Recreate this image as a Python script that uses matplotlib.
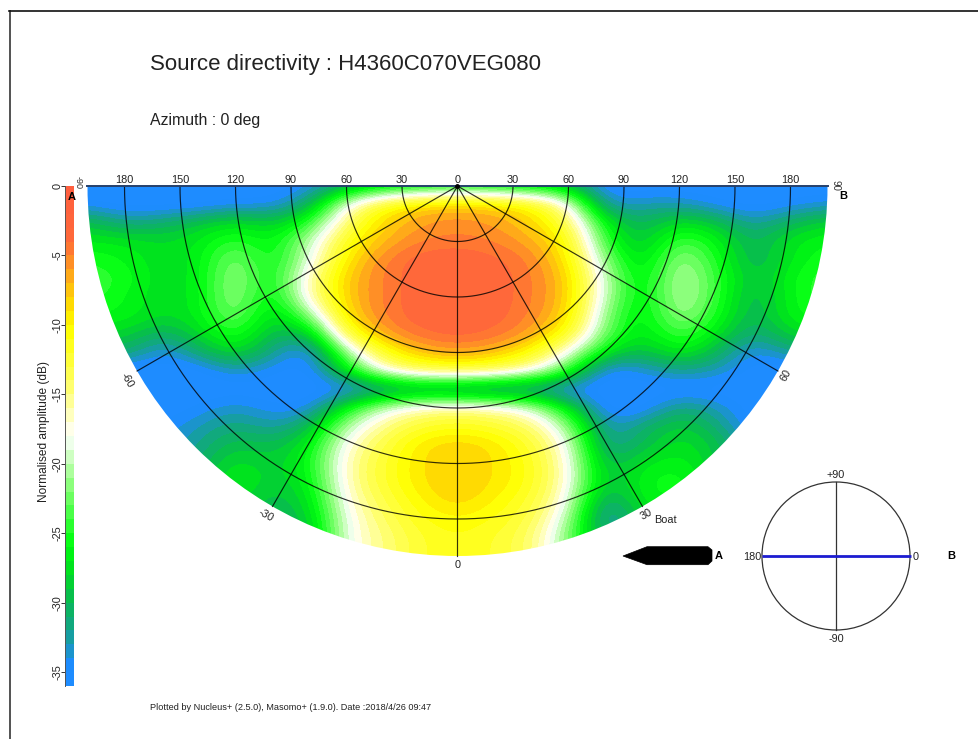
import matplotlib
matplotlib.use("Agg")
import matplotlib.pyplot as plt
import numpy as np
from matplotlib.colors import LinearSegmentedColormap, Normalize
from matplotlib.patches import Wedge, Polygon, Circle

plt.rcParams['font.family'] = ['Liberation Sans', 'DejaVu Sans']

W, H = 979, 739
CX, CY, SCALE = 457.5, 186.0, 1.85

# horizontal positions (deg-like radial units) and depth rows of the estimated field
x_positions = list(range(-200, 201, 20))
depth_rows = list(range(0, 201, 10))
# amplitude in dB; one row per depth, left to right
field_db = [
 [-36,-36,-36,-36,-36,-36,-35,-31,-29,-28,-27,-28,-29,-30,-36,-36,-36,-36,-36,-36,-36],
 [-35,-36,-36,-36,-35,-35,-31,-18,-11, -8, -7, -8,-10,-17,-34,-33,-33,-35,-36,-35,-34],
 [-29,-32,-31,-29,-27,-29,-25,-14, -8, -6,-5.5,-6, -8,-13,-27,-31,-27,-29,-33,-30,-28],
 [-27,-27,-28,-27,-24,-27,-20,-11, -7,-5, -4.5,-5, -6.5,-10,-25,-30,-23,-26,-31,-27,-26],
 [-25,-26,-28,-27,-21,-27,-19,-9, -5, -3, -3, -3.5,-5,-9,-22,-29,-20,-25,-31,-27,-25],
 [-24,-25,-28,-27,-20,-27,-16,-7.5,-4.8,-3, -3, -3, -4.8,-7.5,-20,-28,-19,-24,-30,-26,-24],
 [-24,-26,-28,-27,-20,-28,-16,-7.5,-4.8,-3, -3, -3, -4.8,-7.5,-20,-28,-19,-24,-31,-26,-24],
 [-26,-26,-28,-27,-21,-29,-22,-8, -4.8,-3, -3, -3.2,-5,-8,-22,-28,-20,-25,-31,-26,-25],
 [-28,-28,-31,-28,-24,-30,-30,-12, -6,-4,-3.2,-4,-6,-11,-23,-28,-23,-27,-32,-28,-27],
 [-32,-30,-35,-31,-27,-32,-36,-21,-11, -7, -6, -7,-10,-18,-27,-30,-26,-30,-35,-32,-31],
 [-36,-36,-36,-36,-33,-35,-36,-27,-17,-13,-12,-13,-17,-24,-36,-34,-32,-33,-36,-36,-36],
 [-36,-36,-36,-36,-36,-36,-36,-36,-34,-33,-34,-35,-34,-36,-36,-36,-36,-36,-36,-36,-36],
 [-36,-36,-36,-35,-33,-35,-35,-26,-19,-16,-15,-16,-19,-27,-36,-36,-31,-33,-36,-36,-36],
 [-36,-36,-35,-33,-31,-33,-30,-20,-15,-12,-11,-12,-14,-21,-34,-31,-28,-31,-36,-36,-36],
 [-36,-36,-34,-32,-29,-30,-27,-17,-13, -9, -8, -9,-12,-18,-33,-30,-27,-29,-34,-36,-36],
 [-36,-36,-34,-31,-27,-29,-26,-16,-12, -9,-7.5,-9,-11,-17,-31,-27,-26,-29,-34,-36,-36],
 [-36,-36,-34,-30,-26,-29,-27,-16,-12, -9,-7.5,-9,-11,-17,-30,-26,-25,-28,-34,-36,-36],
 [-36,-36,-34,-30,-27,-30,-28,-17,-13,-10, -8,-10,-12,-18,-33,-26,-26,-28,-34,-36,-36],
 [-36,-36,-34,-31,-28,-31,-29,-18,-14,-11,-10,-11,-13,-20,-35,-28,-27,-29,-34,-36,-36],
 [-36,-36,-34,-31,-28,-31,-30,-18,-15,-12,-11,-12,-14,-22,-32,-28,-27,-29,-34,-36,-36],
 [-36,-36,-34,-31,-28,-31,-30,-18,-15,-12,-11,-12,-14,-22,-32,-28,-27,-29,-34,-36,-36],
]
cb_ticks = [0, -5, -10, -15, -20, -25, -30, -35]
ring_labels = [180, 150, 120, 90, 60, 30, 0, 30, 60, 90, 120, 150, 180]
ring_radii = [30, 60, 90, 120, 150, 180]
spoke_angles = [-60, -30, 0, 30, 60]
max_radius = 200

cmap_points = [(-36,'#1e8cff'),(-35,'#1e8cff'),(-33.5,'#1a98b8'),(-32,'#12a880'),(-30,'#08bc50'),
               (-28,'#00e020'),(-26,'#00ff10'),(-24,'#40ff40'),(-22,'#80ff70'),(-20,'#c0ffb0'),
               (-18,'#ffffff'),(-16.5,'#ffffc0'),(-14,'#ffff60'),(-10,'#ffff00'),(-8.5,'#ffe000'),
               (-7,'#ffc010'),(-5,'#ff8c28'),(-3.5,'#ff6a3a'),(0,'#ff5f3f')]
cmap = LinearSegmentedColormap.from_list(
    'dir', [((v + 36) / 36, c) for v, c in cmap_points], N=36)
norm = Normalize(-36, 0)

fig = plt.figure(figsize=(W / 100, H / 100), dpi=100, facecolor='white')

# main chart axes: radial units with origin at the source
ax = fig.add_axes([0, 0, 1, 1])
ax.set_xlim(-CX / SCALE, (W - CX) / SCALE)
ax.set_ylim(-(H - CY) / SCALE, CY / SCALE)
ax.axis('off')
F = np.array(field_db, dtype=float)
dx = (x_positions[1] - x_positions[0]) / 2
dy = (depth_rows[1] - depth_rows[0]) / 2
im = ax.imshow(F, cmap=cmap, norm=norm, aspect='auto', interpolation='bicubic',
               interpolation_stage='data',
               extent=[x_positions[0] - dx, x_positions[-1] + dx,
                       -depth_rows[-1] - dy, -depth_rows[0] + dy], origin='upper')
ax.set_xlim(-CX / SCALE, (W - CX) / SCALE)
ax.set_ylim(-(H - CY) / SCALE, CY / SCALE)
disc = Wedge((0, 0), max_radius, 180, 360, transform=ax.transData, fc='none', ec='none')
ax.add_patch(disc)
im.set_clip_path(disc)

t = np.radians(np.linspace(180, 360, 361))
for r in ring_radii:
    ax.plot(r * np.cos(t), r * np.sin(t), color='black', lw=0.85, alpha=0.8, zorder=3)
for a in spoke_angles:
    ar = np.radians(a)
    ax.plot([0, max_radius * np.sin(ar)], [0, -max_radius * np.cos(ar)],
            color='black', lw=0.85, alpha=0.8, zorder=3)
ax.plot([-max_radius, max_radius], [0, 0], color='#26406a', lw=1.4, zorder=4)
ax.plot([0], [0], 'o', ms=2.5, color='black', zorder=5)

for i, lab in enumerate(ring_labels):
    xr = (i - 6) * 30
    ax.text(xr, 0.6, str(lab), ha='center', va='bottom', fontsize=7.8, color='#222222')

# colour bar
cax = fig.add_axes([65.5 / W, 1 - 686 / H, 9 / W, 500 / H])
cb_vals = np.linspace(0, -36, 37).reshape(-1, 1)
cax.imshow(cb_vals[:-1] - 0.5, cmap=cmap, norm=norm, aspect='auto',
           interpolation='nearest', extent=[0, 1, -36, 0])
cax.set_xticks([])
cax.set_yticks(cb_ticks)
cax.set_yticklabels([str(v) for v in cb_ticks], rotation=90, va='center', fontsize=7.8, color='#222222')
cax.tick_params(axis='y', length=3, width=0.7, pad=-1, color='#333333')
for s in ['top', 'right', 'bottom']:
    cax.spines[s].set_visible(False)
cax.spines['left'].set_linewidth(0.7)
cax.spines['left'].set_color('#555555')

# overlay in image pixels for frame, annotation text, boat and orientation dial
ov = fig.add_axes([0, 0, 1, 1], zorder=10)
ov.set_xlim(0, W)
ov.set_ylim(H, 0)
ov.axis('off')
ov.patch.set_alpha(0)
ov.plot([10, 10], [H, 11], color='#444444', lw=1.3)
ov.plot([9.5, W], [11, 11], color='#111111', lw=1.2)

ov.text(150, 64.5, 'Source directivity : H4360C070VEG080', fontsize=16.05, va='center', color='#222222')
ov.text(150, 120.5, 'Azimuth : 0 deg', fontsize=11.4, va='center', color='#222222')
ov.text(150, 707, 'Plotted by Nucleus+ (2.5.0), Masomo+ (1.9.0). Date :2018/4/26 09:47',
        fontsize=6.55, va='center', color='#222222')
ov.text(44, 432, 'Normalised amplitude (dB)', rotation=90, fontsize=8.6, ha='center', va='center', color='#222222')

ov.text(72, 197.5, 'A', fontsize=8, fontweight='bold', ha='center', va='center')
ov.text(843, 196, 'B', fontsize=8, fontweight='bold', ha='center', va='center')
ov.text(78, 183, '-90', fontsize=6.5, rotation=-90, ha='center', va='center', color='#333333')
ov.text(836, 185, '90', fontsize=7, rotation=-90, ha='center', va='center', color='#333333')
ov.text(127, 380, '-60', fontsize=7.8, rotation=-60, ha='center', va='center', color='#222222')
ov.text(266, 515, '-30', fontsize=7.8, rotation=-30, ha='center', va='center', color='#222222')
ov.text(457.5, 565, '0', fontsize=7.8, ha='center', va='center', color='#222222')
ov.text(646, 514, '30', fontsize=7.8, rotation=30, ha='center', va='center', color='#222222')
ov.text(786, 375, '60', fontsize=7.8, rotation=60, ha='center', va='center', color='#222222')
ov.text(665, 520, 'Boat', fontsize=7.8, ha='center', va='center', color='#222222')

boat_x = [623, 647, 708, 712, 712, 708, 647]
boat_y = [556, 546.7, 546.7, 550, 561, 564.7, 564.7]
ov.add_patch(Polygon(np.c_[boat_x, boat_y], closed=True, fc='black', ec='black', lw=0.5))
ov.text(719, 556, 'A', fontsize=8, fontweight='bold', ha='center', va='center')

ov.add_patch(Circle((836, 556), 74, fc='none', ec='#333333', lw=0.9))
ov.plot([836, 836], [482, 630], color='#333333', lw=0.9)
ov.plot([762, 911], [556, 556], color='#1c1cd0', lw=2.0, solid_capstyle='butt')
ov.text(836, 475, '+90', fontsize=7.8, ha='center', va='center', color='#222222')
ov.text(836, 639, '-90', fontsize=7.8, ha='center', va='center', color='#222222')
ov.text(752, 556.5, '180', fontsize=7.8, ha='center', va='center', color='#222222')
ov.text(916, 556.5, '0', fontsize=7.8, ha='center', va='center', color='#222222')
ov.text(951, 556, 'B', fontsize=8, fontweight='bold', ha='center', va='center')

fig.savefig('out.png', dpi=100, facecolor='white')
